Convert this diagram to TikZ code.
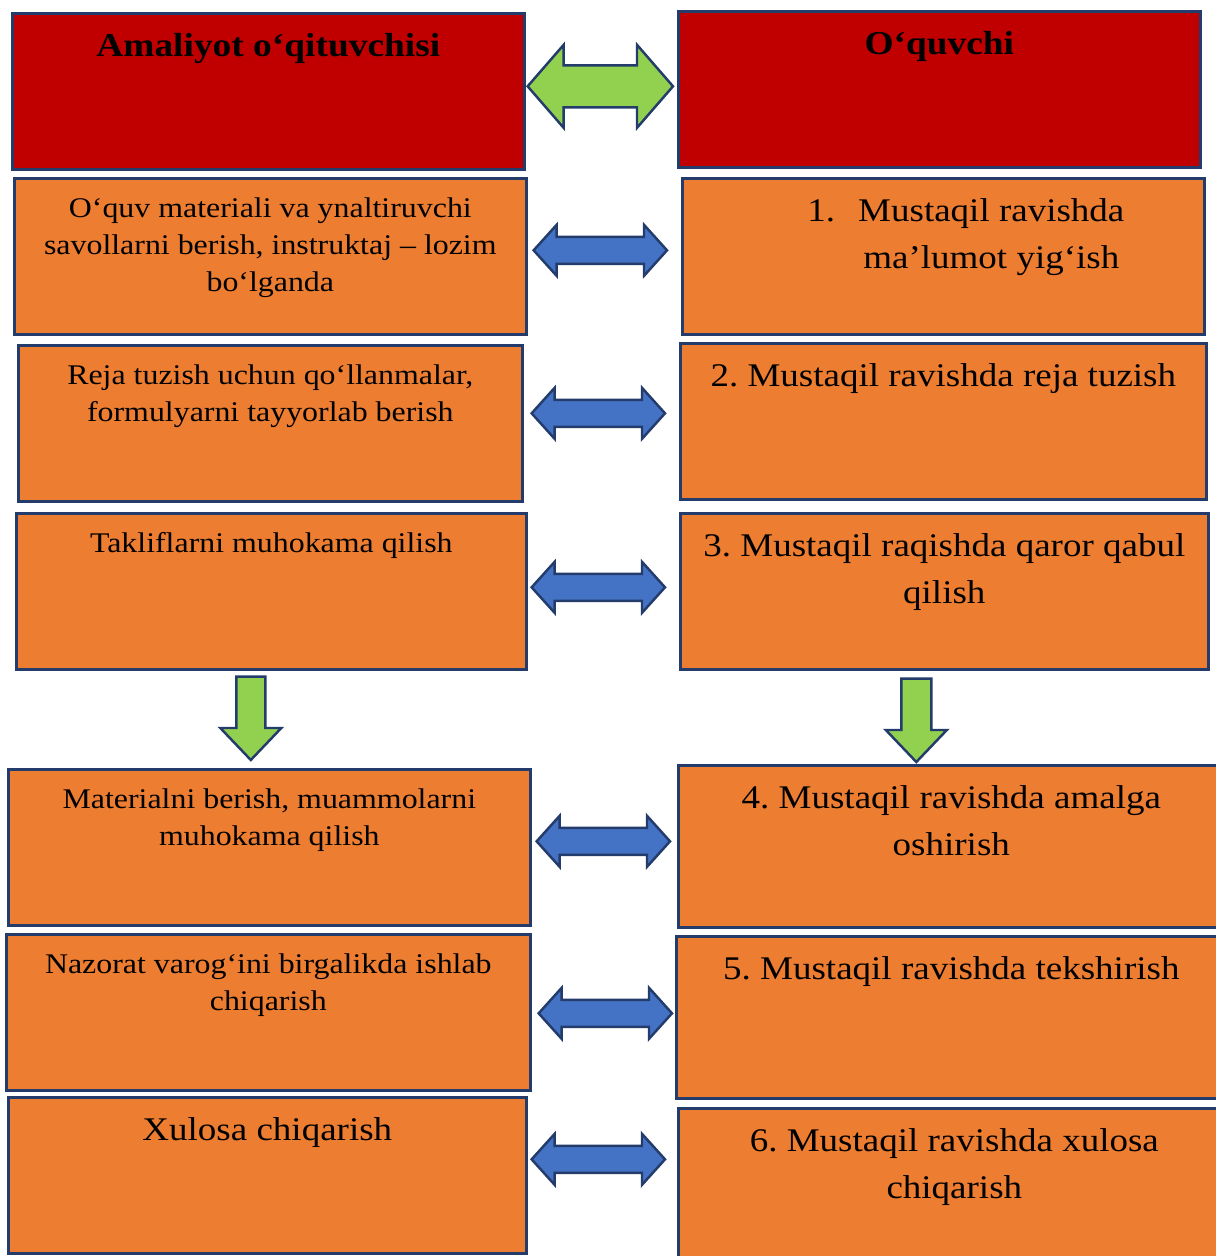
\documentclass[tikz,border=0pt]{standalone}
\usepackage{fontspec}
\setmainfont[FakeStretch=1.12]{Liberation Serif}
\usetikzlibrary{positioning,calc}
\frenchspacing

\definecolor{hdrred}{HTML}{C00000}
\definecolor{boxorange}{HTML}{ED7D31}
\definecolor{arrblue}{HTML}{4472C4}
\definecolor{arrgreen}{HTML}{92D050}
\definecolor{edgeblue}{HTML}{233C6B}

\tikzset{
  hdr/.style={draw=edgeblue, line width=1.5pt, fill=hdrred, anchor=north west, inner sep=0pt},
  box/.style={draw=edgeblue, line width=1.5pt, fill=boxorange, anchor=north west, inner sep=0pt},
  htext/.style={font=\fontsize{19}{23}\selectfont\bfseries, inner sep=0pt},
  ltext/.style={font=\fontsize{16.2}{21.3}\selectfont, align=center, inner sep=0pt},
  rtext/.style={font=\fontsize{18.8}{26.5}\selectfont, align=center, inner sep=0pt},
  bluearr/.style={draw=edgeblue, line width=1.4pt, fill=arrblue},
  greenarr/.style={draw=edgeblue, line width=1.4pt, fill=arrgreen},
}

\newcommand{\twoway}[6]{%
  \draw[#1] let \p1=(#2), \p2=(#3) in
    (\x1,\y1) -- (\x1+#4,\y1+#5) -- (\x1+#4,\y1+#6) -- (\x2-#4,\y1+#6)
    -- (\x2-#4,\y1+#5) -- (\x2,\y1) -- (\x2-#4,\y1-#5) -- (\x2-#4,\y1-#6)
    -- (\x1+#4,\y1-#6) -- (\x1+#4,\y1-#5) -- cycle;}
\newcommand{\downway}[6]{%
  \draw[#1] let \p1=(#2), \p2=(#3) in
    (\x1-#6,\y1) -- (\x1+#6,\y1) -- (\x1+#6,\y2+#4) -- (\x1+#5,\y2+#4)
    -- (\x1,\y2) -- (\x1-#5,\y2+#4) -- (\x1-#6,\y2+#4) -- cycle;}

\begin{document}
\begin{tikzpicture}
  \useasboundingbox (0,0) rectangle (24.3,-25.12);

  \node[hdr, minimum width=10.24cm, minimum height=3.12cm] (hl) at (0.22,-0.24) {};
  \node[hdr, minimum width=10.44cm, minimum height=3.12cm] (hr) at (13.54,-0.20) {};
  \node[htext, below=0.42cm of hl.north] (hlt) {Amaliyot o‘qituvchisi};
  \node[htext, below=0.42cm of hr.north] (hrt) {O‘quvchi};

  \node[box, minimum width=10.24cm, minimum height=3.12cm] (l1) at (0.26,-3.54) {};
  \node[box, minimum width=10.08cm, minimum height=3.12cm] (l2) at (0.34,-6.88) {};
  \node[box, minimum width=10.20cm, minimum height=3.12cm] (l3) at (0.30,-10.24) {};
  \node[box, minimum width=10.44cm, minimum height=3.12cm] (l4) at (0.14,-15.36) {};
  \node[box, minimum width=10.48cm, minimum height=3.12cm] (l5) at (0.10,-18.66) {};
  \node[box, minimum width=10.36cm, minimum height=3.12cm] (l6) at (0.14,-21.92) {};

  \node[box, minimum width=10.44cm, minimum height=3.12cm] (r1) at (13.62,-3.54) {};
  \node[box, minimum width=10.52cm, minimum height=3.12cm] (r2) at (13.58,-6.84) {};
  \node[box, minimum width=10.56cm, minimum height=3.12cm] (r3) at (13.58,-10.24) {};
  \node[box, minimum width=10.92cm, minimum height=3.24cm] (r4) at (13.54,-15.28) {};
  \node[box, minimum width=11.00cm, minimum height=3.24cm] (r5) at (13.50,-18.70) {};
  \node[box, minimum width=11.04cm, minimum height=3.24cm] (r6) at (13.54,-22.14) {};

  \node[ltext, below=0.40cm of l1.north] (l1t) {O‘quv materiali va ynaltiruvchi\\savollarni berish, instruktaj – lozim\\bo‘lganda};
  \node[ltext, below=0.40cm of l2.north] (l2t) {Reja tuzish uchun qo‘llanmalar,\\formulyarni tayyorlab berish};
  \node[ltext, below=0.40cm of l3.north] (l3t) {Takliflarni muhokama qilish};
  \node[ltext, below=0.40cm of l4.north] (l4t) {Materialni berish, muammolarni\\muhokama qilish};
  \node[ltext, below=0.40cm of l5.north] (l5t) {Nazorat varog‘ini birgalikda ishlab\\chiqarish};
  \node[rtext, below=0.42cm of l6.north] (l6t) {Xulosa chiqarish};

  \node[rtext, below=0.43cm of r1.north, xshift=0.96cm] (r1t) {\llap{1.\hspace{0.46cm}}Mustaqil ravishda\\ma’lumot yig‘ish};
  \node[rtext, below=0.43cm of r2.north] (r2t) {2. Mustaqil ravishda reja tuzish};
  \node[rtext, below=0.43cm of r3.north] (r3t) {3. Mustaqil raqishda qaror qabul\\qilish};
  \node[rtext, below=0.43cm of r4.north] (r4t) {4. Mustaqil ravishda amalga\\oshirish};
  \node[rtext, below=0.43cm of r5.north] (r5t) {5. Mustaqil ravishda tekshirish};
  \node[rtext, below=0.43cm of r6.north] (r6t) {6. Mustaqil ravishda xulosa\\chiqarish};

  \twoway{greenarr}{$(hl.east)+(0.04,0.10)$}{$(hr.west)+(-0.08,0)$}{0.72cm}{0.83cm}{0.42cm}
  \twoway{bluearr}{$(l1.east)+(0.12,0.12)$}{$(r1.west)+(-0.28,0)$}{0.46cm}{0.51cm}{0.27cm}
  \twoway{bluearr}{$(l2.east)+(0.16,0.20)$}{$(r2.west)+(-0.28,0)$}{0.46cm}{0.51cm}{0.27cm}
  \twoway{bluearr}{$(l3.east)+(0.08,0.08)$}{$(r3.west)+(-0.28,0)$}{0.46cm}{0.51cm}{0.27cm}
  \twoway{bluearr}{$(l4.east)+(0.10,0.12)$}{$(r4.west)+(-0.14,0)$}{0.46cm}{0.51cm}{0.27cm}
  \twoway{bluearr}{$(l5.east)+(0.14,-0.02)$}{$(r5.west)+(-0.06,0)$}{0.46cm}{0.51cm}{0.27cm}
  \twoway{bluearr}{$(l6.east)+(0.08,0.32)$}{$(r6.west)+(-0.24,0)$}{0.46cm}{0.51cm}{0.27cm}

  \downway{greenarr}{$(l3.south)+(-0.41,-0.12)$}{$(l4.north)+(0,0.16)$}{0.64cm}{0.61cm}{0.29cm}
  \downway{greenarr}{$(r3.south)+(-0.56,-0.16)$}{$(r4.north)+(0,0.04)$}{0.64cm}{0.61cm}{0.30cm}
\end{tikzpicture}
\end{document}
